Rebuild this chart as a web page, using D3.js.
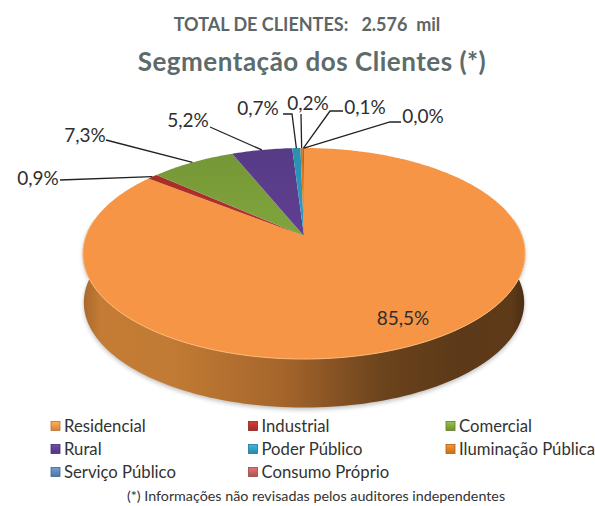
<!DOCTYPE html>
<html><head><meta charset="utf-8">
<script src="https://cdn.jsdelivr.net/npm/d3@7/dist/d3.min.js"></script>
<style>html,body{margin:0;background:#fff}svg{display:block}text{font-family:Lato,"Open Sans",sans-serif}</style>
</head><body><svg id="c" width="595" height="506"></svg>
<script>
const categories=["Residencial","Industrial","Comercial","Rural","Poder Público","Iluminação Pública","Serviço Público","Consumo Próprio"];
const values=[85.5,0.9,7.3,5.2,0.7,0.2,0.1,0.0];
const valueLabels=["85,5%","0,9%","7,3%","5,2%","0,7%","0,2%","0,1%","0,0%"];
const colors=["#f59544","#b8312c","#80a53c","#5f3f92","#2f9dbf","#e27f22","#5b87b8","#c2605f"];
const titleTop="TOTAL DE CLIENTES:   2.576  mil";
const title="Segmentação dos Clientes (*)";
const footnote="(*) Informações não revisadas pelos auditores independentes";

const svg=d3.select("#c");
const defs=svg.append("defs");
const cx=304,apexY=236,b=218,a=102.6,k=0.166,depth=49;
const P=(t,z=0)=>{const u=Math.sin(t),v=-Math.cos(t),w=1-k*v,s=1-z*0.004;
  return [cx+b*s*u/w, apexY+a*s*v/w+z*depth];};
const line=d3.line();
const pie=d3.pie().sort(null).value(d=>d).startAngle(0).endAngle(2*Math.PI);
const arcs=pie(values);

const blur=defs.append("filter").attr("id","sh").attr("x","-10%").attr("y","-10%").attr("width","120%").attr("height","130%");
blur.append("feGaussianBlur").attr("stdDeviation",2);
const soft=defs.append("filter").attr("id","soft");
soft.append("feGaussianBlur").attr("stdDeviation",0.35);

const sg=defs.append("linearGradient").attr("id","side").attr("gradientUnits","userSpaceOnUse")
 .attr("x1",83).attr("x2",525).attr("y1",0).attr("y2",0);
[[0,"#a9672b"],[0.04,"#c47c35"],[0.2,"#c27b34"],[0.45,"#a5652b"],[0.68,"#6b431c"],[0.85,"#5c3918"],[0.97,"#5e3a18"],[1,"#4a2d12"]]
 .forEach(([o,c])=>sg.append("stop").attr("offset",o).attr("stop-color",c));

const t0=Math.acos(k),front=d3.range(0,121).map(i=>t0+(2*Math.PI-2*t0)*i/120);
const sidePts=front.map(t=>P(t,0)).concat(front.slice().reverse().map(t=>P(t,1)));
svg.append("path").attr("d",line(sidePts)+"Z").attr("fill","#8a8a8a").attr("opacity",.55)
 .attr("transform","translate(0,2)").attr("filter","url(#sh)");
svg.append("path").attr("d",line(sidePts)+"Z").attr("fill","url(#side)");

const wedge=d=>{const n=Math.max(2,Math.ceil((d.endAngle-d.startAngle)*60));
  const pts=[[cx,apexY]];
  for(let i=0;i<=n;i++)pts.push(P(d.startAngle+(d.endAngle-d.startAngle)*i/n));
  return line(pts)+"Z";};
defs.selectAll("linearGradient.g").data(arcs.slice(1)).join("linearGradient").attr("id",(d,i)=>"g"+(i+1))
 .attr("x1",0).attr("x2",0).attr("y1",0).attr("y2",1)
 .call(s=>{s.append("stop").attr("offset",0).attr("stop-color",(d,i)=>d3.color(colors[i+1]).darker(.25));
           s.append("stop").attr("offset",1).attr("stop-color",(d,i)=>colors[i+1]);});
svg.selectAll("path.w").data(arcs).join("path").attr("class","w").attr("d",wedge)
 .attr("fill",(d,i)=>i==0?colors[0]:`url(#g${i})`).attr("filter","url(#soft)");
const rimPts=front.map(t=>P(t,0));
svg.append("path").attr("d",line(rimPts)).attr("fill","none").attr("stroke","#fbb978").attr("stroke-width",1);

const labelPos=[[403,318],[38,178],[85,135],[188,120],[258,108],[308,103],[365,107],[423,116]];
const elbow=[null,[60,180],[106,140],[210,127],[[283,114],[292,114]],[301,114],[[343,111],[330,111]],[[401,122],[390,122]]];
arcs.forEach((d,i)=>{ if(!elbow[i])return;
  const m=P((d.startAngle+d.endAngle)/2);
  const e=elbow[i],pts=Array.isArray(e[0])?e.concat([m]):[e,m];
  svg.append("path").attr("d",line(pts)).attr("fill","none").attr("stroke","#222").attr("stroke-width",1.3);
});
svg.selectAll("text.v").data(valueLabels).join("text").attr("class","v").text(d=>d)
 .attr("x",(d,i)=>labelPos[i][0]).attr("y",(d,i)=>labelPos[i][1]).attr("dy",".35em")
 .attr("text-anchor","middle").attr("font-size",19).attr("fill","#2e2e2e");

svg.append("text").text(titleTop).attr("x",307).attr("y",31).attr("text-anchor","middle")
 .attr("font-size",18).attr("font-weight",700).attr("fill","#5d6666").attr("xml:space","preserve").style("white-space","pre");
svg.append("text").text(title).attr("x",312).attr("y",71).attr("text-anchor","middle")
 .attr("font-size",26).attr("font-weight",700).attr("letter-spacing",".5").attr("fill","#5d6b6b");

const xCol=d3.scalePoint().domain([0,1,2]).range([51,446]);
const yRow=d3.scalePoint().domain([0,1,2]).range([426,472]);
const sw=defs.selectAll("linearGradient.s").data(colors).join("linearGradient").attr("id",(d,i)=>"s"+i)
 .attr("x1",0).attr("x2",0).attr("y1",0).attr("y2",1);
sw.append("stop").attr("offset",0).attr("stop-color",d=>d3.color(d).brighter(.5));
sw.append("stop").attr("offset",1).attr("stop-color",d=>d3.color(d).darker(.4));
const lg=svg.selectAll("g.l").data(categories).join("g").attr("class","l")
 .attr("transform",(d,i)=>`translate(${xCol(i%3)},${yRow(Math.floor(i/3))})`);
lg.append("rect").attr("x",0).attr("y",-4.5).attr("width",9).attr("height",9).attr("fill",(d,i)=>`url(#s${i})`)
 .attr("stroke",(d,i)=>d3.color(colors[i]).darker(.8)).attr("stroke-width",.8);
lg.append("text").text(d=>d).attr("x",13).attr("dy",".35em").attr("font-size",16.7).attr("fill","#333");
svg.append("text").text(footnote).attr("x",316).attr("y",496).attr("dy",".35em").attr("text-anchor","middle")
 .attr("font-size",14.3).attr("fill","#333");
</script></body></html>
